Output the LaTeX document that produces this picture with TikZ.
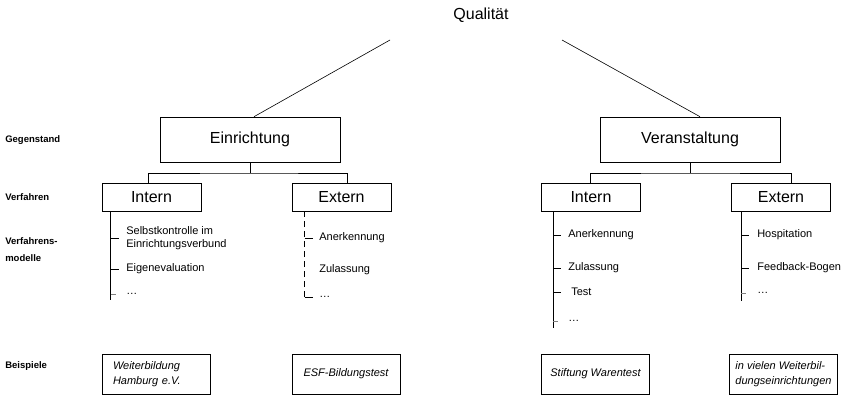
\documentclass[tikz,border=0pt]{standalone}
\usepackage{fontspec}
\setmainfont{Liberation Sans}
\usetikzlibrary{positioning}

\tikzset{
  objbox/.style={draw, shape=rectangle, minimum width=180pt, minimum height=45pt, font=\fontsize{16}{18}\selectfont},
  procbox/.style={draw, shape=rectangle, minimum width=99pt, minimum height=28pt, font=\fontsize{16}{18}\selectfont},
  samplebox/.style={draw, shape=rectangle, minimum width=108pt, minimum height=40pt, align=left, font=\fontsize{11}{15}\selectfont\itshape},
  rowlabel/.style={anchor=west, align=left, inner sep=0pt, font=\fontsize{9.5}{17}\selectfont\bfseries},
  entry/.style={anchor=west, align=left, inner sep=0pt, font=\fontsize{11}{12.5}\selectfont},
  tick/.style={line width=0.5pt},
  faint/.style={line width=0.4pt, gray},
}

\begin{document}
\begin{tikzpicture}[x=1pt, y=-1pt, line width=0.6pt]
   \useasboundingbox (0,0) rectangle (847,396);

   % Kopf
   \path (481,15) node[font=\fontsize{16}{18}\selectfont] (qual) {Qualität};
   \coordinate (qleft) at (390,40);
   \coordinate (qright) at (562,40);

   % Gegenstand
   \path (250,139.5) node[objbox] (einr) {Einrichtung};
   \path (690,139.5) node[objbox] (vera) {Veranstaltung};
   \draw (qleft) -- ([xshift=4pt]einr.north);
   \draw (qright) -- ([xshift=10pt]vera.north);

   % Verfahren
   \path (151.5,197) node[procbox] (eintern) {Intern};
   \path (341.5,197) node[procbox] (eextern) {Extern};
   \path (591,197) node[procbox] (vintern) {Intern};
   \path (781,197) node[procbox] (vextern) {Extern};

   \coordinate (ej) at (einr.south |- 0,173);
   \coordinate (vj) at (vera.south |- 0,173);
   \draw (einr.south) -- (ej);
   \draw ([xshift=-3.5pt]eintern.north) |- (ej) -| ([xshift=5.5pt]eextern.north);
   \draw (vera.south) -- (vj);
   \draw ([xshift=-1pt]vintern.north) |- (vj) -| ([xshift=10pt]vextern.north);

   % Zeilenbeschriftung
   \path (5,140) node[rowlabel] (lgeg) {Gegenstand};
   \path (5,197) node[rowlabel] (lverf) {Verfahren};
   \path (5,250) node[rowlabel] (lmod) {Verfahrens-\\modelle};
   \path (5,366) node[rowlabel] (lbsp) {Beispiele};

   % Verfahrensmodelle: Einrichtung intern
   \coordinate (s1) at ([xshift=9pt]eintern.south west);
   \path (126,238) node[entry] (a1) {Selbstkontrolle im\\Einrichtungsverbund};
   \path (126,269) node[entry] (a2) {Eigenevaluation};
   \path (126,294) node[entry] (a3) {\dots};
   \draw (s1) -- ++(0,89);
   \draw[tick] (s1 |- a1.west) -- ++(8,0);
   \draw[tick] (s1 |- a2.west) -- ++(8,0);
   \draw[faint] (s1 |- a3.west) -- ++(5,0);

   % Einrichtung extern
   \coordinate (s2) at ([xshift=13pt]eextern.south west);
   \path (319,238) node[entry] (b1) {Anerkennung};
   \path (319,270) node[entry] (b2) {Zulassung};
   \path (319,297) node[entry] (b3) {\dots};
   \draw[dash pattern=on 6pt off 4pt] (s2) -- ++(0,89);
   \draw[tick] (s2 |- b1.west) -- ++(8,0);
   \draw[tick] (s2 |- b3.west) -- ++(8,0);

   % Veranstaltung intern
   \coordinate (s3) at ([xshift=12pt]vintern.south west);
   \path (568,235) node[entry] (c1) {Anerkennung};
   \path (568,268) node[entry] (c2) {Zulassung};
   \path (571,292) node[entry] (c3) {Test};
   \path (568,321) node[entry] (c4) {\dots};
   \draw (s3) -- ++(0,117);
   \draw[tick] (s3 |- c1.west) -- ++(8,0);
   \draw[tick] (s3 |- c2.west) -- ++(8,0);
   \draw[tick] (s3 |- c3.west) -- ++(8,0);
   \draw[faint] (s3 |- c4.west) -- ++(5,0);

   % Veranstaltung extern
   \coordinate (s4) at ([xshift=10pt]vextern.south west);
   \path (757,235) node[entry] (d1) {Hospitation};
   \path (757,268) node[entry] (d2) {Feedback-Bogen};
   \path (757,293) node[entry] (d3) {\dots};
   \draw (s4) -- ++(0,90);
   \draw[tick] (s4 |- d1.west) -- ++(8,0);
   \draw[tick] (s4 |- d2.west) -- ++(8,0);
   \draw[faint] (s4 |- d3.west) -- ++(5,0);

   % Beispiele
   \path (156,374) node[samplebox, text width=86pt] (e1) {Weiterbildung\\Hamburg e.V.};
   \path (346,374) node[samplebox] (e2) {ESF-Bildungstest};
   \path (595.5,374) node[samplebox] (e3) {Stiftung Warentest};
   \path (783.5,374) node[samplebox] (e4) {in vielen Weiterbil-\\dungseinrichtungen};
\end{tikzpicture}
\end{document}
